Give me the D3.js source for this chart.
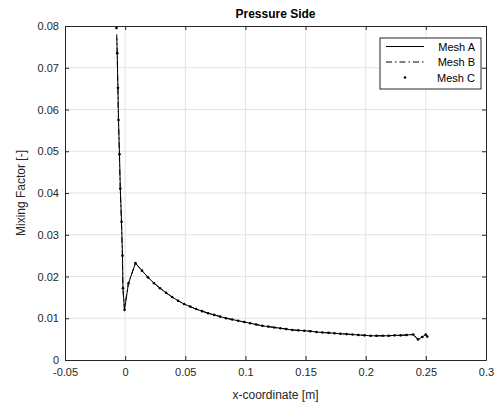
<!DOCTYPE html>
<html>
<head>
<meta charset="utf-8">
<script src="https://cdn.jsdelivr.net/npm/d3@7"></script>
<style>
  body { margin: 0; background: #fff; }
  text { font-family: "Liberation Sans", Arial, sans-serif; }
</style>
</head>
<body>
<div id="chart"></div>
<script>
// tick labels
const xTicks = [-0.05, 0, 0.05, 0.1, 0.15, 0.2, 0.25, 0.3];
const yTicks = [0, 0.01, 0.02, 0.03, 0.04, 0.05, 0.06, 0.07, 0.08];

// spike at the leading edge, per mesh
const spikeXA = [-0.0069, -0.0066, -0.0060, -0.0055, -0.0047, -0.0040, -0.0030, -0.0022, -0.0018, -0.0005, 0.0028];
const spikeYA = [0.0771, 0.0735, 0.0652, 0.0575, 0.0493, 0.0410, 0.0331, 0.0250, 0.0172, 0.0120, 0.0184];
const spikeXB = [-0.0070, -0.0066, -0.0061, -0.0056, -0.0048, -0.0041, -0.0031, -0.0023, -0.0019, -0.0006, 0.0027];
const spikeYB = [0.0780, 0.0735, 0.0652, 0.0575, 0.0493, 0.0410, 0.0331, 0.0250, 0.0172, 0.0122, 0.0184];
const spikeXC = [-0.0072, -0.0066, -0.0060, -0.0055, -0.0047, -0.0040, -0.0030, -0.0022, -0.0018, -0.0005, 0.0028];
const spikeYC = [0.0795, 0.0735, 0.0652, 0.0575, 0.0493, 0.0410, 0.0331, 0.0250, 0.0172, 0.0120, 0.0184];

// decaying part along the pressure side (all meshes overlap)
const tailX = [0.0086, 0.014, 0.019, 0.024, 0.029, 0.034, 0.039, 0.044, 0.049,
  0.054, 0.059, 0.064, 0.069, 0.074, 0.079, 0.084, 0.089, 0.094, 0.099,
  0.104, 0.109, 0.114, 0.119, 0.124, 0.129, 0.134, 0.139, 0.144, 0.149,
  0.154, 0.159, 0.164, 0.169, 0.174, 0.179, 0.184, 0.189, 0.194, 0.199,
  0.204, 0.209, 0.214, 0.219, 0.224, 0.229, 0.234, 0.2395, 0.2435, 0.247, 0.2499, 0.2512];
const tailY = [0.0232, 0.0214, 0.0198, 0.0184, 0.0172, 0.0161, 0.0151, 0.0142, 0.0134,
  0.0128, 0.0122, 0.0117, 0.0112, 0.0108, 0.0104, 0.0100, 0.0097, 0.0094, 0.0091,
  0.0088, 0.0085, 0.0082, 0.0080, 0.0078, 0.0076, 0.0074, 0.0072, 0.0071, 0.0070,
  0.0069, 0.0067, 0.0066, 0.0065, 0.0064, 0.0063, 0.0062, 0.0061, 0.0060, 0.0059,
  0.0058, 0.0058, 0.0058, 0.0058, 0.0059, 0.0059, 0.0060, 0.0061, 0.0049, 0.0055, 0.0061, 0.0056];

const seriesNames = ["Mesh A", "Mesh B", "Mesh C"];

const W = 496, H = 408;
const margin = {top: 26, right: 10, bottom: 48, left: 65};
const width = W - margin.left - margin.right,
      height = H - margin.top - margin.bottom;
const ink = "#262626";

const svg = d3.select("#chart").append("svg")
    .attr("width", W).attr("height", H);
const g = svg.append("g")
    .attr("transform", `translate(${margin.left}, ${margin.top})`);

const x = d3.scaleLinear().domain([-0.05, 0.3]).range([0, width]);
const y = d3.scaleLinear().domain([0, 0.08]).range([height, 0]);

// grid
g.append("g").selectAll("line").data(xTicks.slice(1, -1)).enter().append("line")
    .attr("x1", d => x(d)).attr("x2", d => x(d))
    .attr("y1", 0).attr("y2", height)
    .attr("stroke", "#e3e3e3");
g.append("g").selectAll("line").data(yTicks.slice(1, -1)).enter().append("line")
    .attr("y1", d => y(d)).attr("y2", d => y(d))
    .attr("x1", 0).attr("x2", width)
    .attr("stroke", "#e3e3e3");

// axes, ticks inside like matlab
const fmt = d => String(+d.toFixed(2));
const xAxis = g.append("g").attr("transform", `translate(0, ${height})`)
    .call(d3.axisBottom(x).tickValues(xTicks).tickFormat(fmt).tickSizeInner(-4).tickSizeOuter(0).tickPadding(8));
const yAxis = g.append("g")
    .call(d3.axisLeft(y).tickValues(yTicks).tickFormat(fmt).tickSizeInner(-4).tickSizeOuter(0).tickPadding(6));
g.append("g")
    .call(d3.axisTop(x).tickValues(xTicks).tickFormat("").tickSizeInner(-4).tickSizeOuter(0));
g.append("g").attr("transform", `translate(${width}, 0)`)
    .call(d3.axisRight(y).tickValues(yTicks).tickFormat("").tickSizeInner(-4).tickSizeOuter(0));
g.selectAll(".domain, .tick line").attr("stroke", ink);
g.selectAll(".tick text").attr("fill", ink).style("font-size", "11px")
    .style("font-family", "'Liberation Sans', Arial, sans-serif");

// data
const toPts = (xs, ys) => xs.map((v, i) => [v, ys[i]]);
const meshA = toPts(spikeXA.concat(tailX), spikeYA.concat(tailY));
const meshB = toPts(spikeXB.concat(tailX), spikeYB.concat(tailY));
const meshC = toPts(spikeXC.concat(tailX), spikeYC.concat(tailY));

const line = d3.line().x(d => x(d[0])).y(d => y(d[1]));

g.append("path").datum(meshB)
    .attr("d", line).attr("fill", "none")
    .attr("stroke", "#000").attr("stroke-width", 1)
    .attr("stroke-dasharray", "6,3,1.5,3");
g.append("path").datum(meshA)
    .attr("d", line).attr("fill", "none")
    .attr("stroke", "#000").attr("stroke-width", 1);
g.append("g").selectAll("circle").data(meshC).enter().append("circle")
    .attr("cx", d => x(d[0])).attr("cy", d => y(d[1]))
    .attr("r", 1.3).attr("fill", "#000");

// title and labels
svg.append("text").attr("x", margin.left + width / 2).attr("y", 18)
    .attr("text-anchor", "middle").attr("font-weight", "bold")
    .attr("font-size", 12).attr("fill", "#000").text("Pressure Side");
svg.append("text").attr("x", margin.left + width / 2).attr("y", 399)
    .attr("text-anchor", "middle").attr("font-size", 12).attr("fill", ink)
    .text("x-coordinate [m]");
svg.append("text")
    .attr("transform", `translate(25, ${margin.top + height / 2}) rotate(-90)`)
    .attr("text-anchor", "middle").attr("font-size", 12).attr("fill", ink)
    .text("Mixing Factor [-]");

// legend
const lg = svg.append("g").attr("transform", "translate(380, 38)");
lg.append("rect").attr("width", 101).attr("height", 51)
    .attr("fill", "#fff").attr("stroke", ink);
seriesNames.forEach(function(name, i) {
    const ly = 8.5 + i * 15.5;
    if (i < 2) {
        lg.append("line").attr("x1", 6).attr("x2", 44).attr("y1", ly).attr("y2", ly)
            .attr("stroke", "#000").attr("stroke-width", 1)
            .attr("stroke-dasharray", i === 1 ? "6,3,1.5,3" : null);
    } else {
        lg.append("circle").attr("cx", 25).attr("cy", ly).attr("r", 1.3).attr("fill", "#000");
    }
    lg.append("text").attr("x", 95).attr("y", ly + 4)
        .attr("text-anchor", "end").attr("font-size", 11).attr("fill", "#000")
        .text(name);
});
</script>
</body>
</html>
